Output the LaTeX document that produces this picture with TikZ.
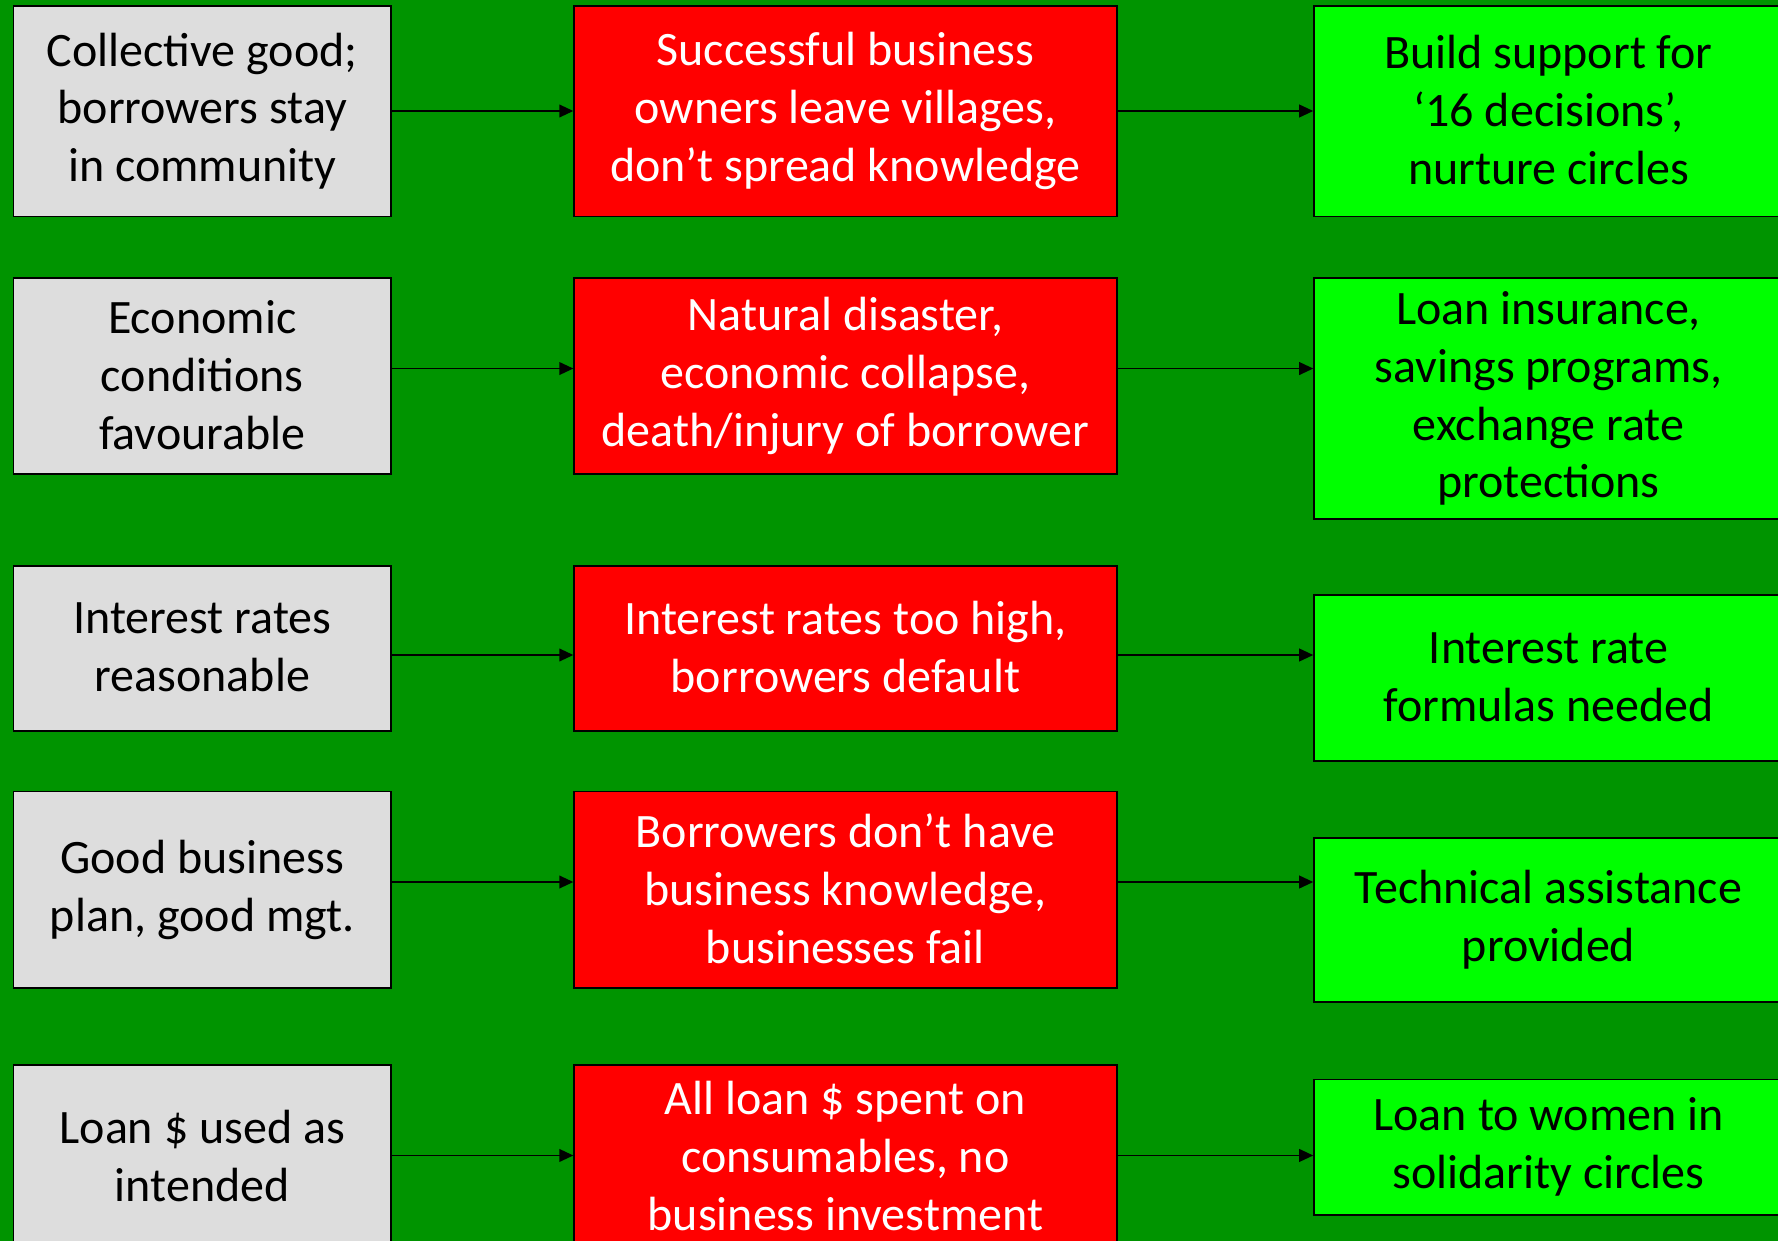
\documentclass[tikz,border=0pt]{standalone}
\usepackage{fontspec}
\setmainfont{Carlito}
\usetikzlibrary{arrows.meta}
\definecolor{bggreen}{RGB}{0,148,0}
\definecolor{boxgray}{RGB}{221,221,221}
\definecolor{boxred}{RGB}{255,0,0}
\definecolor{boxgreen}{RGB}{0,255,0}
\newcommand{\myline}{\rule[-2pt]{0pt}{43.4pt}}
\tikzset{
  basebox/.style={draw=black, line width=1.2pt, rectangle, align=center, inner sep=0pt,
    font=\fontsize{36}{43.4}\selectfont,
    execute at begin node=\myline, execute at end node=\myline},
  graybox/.style={basebox, fill=boxgray, text=black, minimum width=283pt},
  redbox/.style={basebox, fill=boxred, text=white, minimum width=407pt},
  greenbox/.style={basebox, fill=boxgreen, text=black, minimum width=351.75pt},
  arr/.style={line width=1.3pt, -{Triangle[length=10.5pt,width=9.5pt]}}
}
\begin{document}
\begin{tikzpicture}[x=1pt,y=1pt]
\useasboundingbox (0,0) rectangle (1333.5,-930.75);
\clip (0,0) rectangle (1333.5,-930.75);
\fill[bggreen] (0,0) rectangle (1333.5,-930.75);

% row 1
\node[graybox, minimum height=158.2pt] (g1) at (151.7,-83.4) {Collective good;\\borrowers stay\\in community};
\node[redbox, minimum height=158.2pt] (r1) at (634.1,-83.4) {Successful business\\owners leave villages,\\don’t spread knowledge};
\node[greenbox, minimum height=158.2pt] (n1) at (1161.4,-83.4) {Build support for\\‘16 decisions’,\\nurture circles};
\coordinate (a1) at (0,-83.25);

% row 2
\node[graybox, minimum height=147pt] (g2) at (151.7,-282) {Economic\\conditions\\favourable};
\node[redbox, minimum height=147pt] (r2) at (634.1,-282) {Natural disaster,\\economic collapse,\\death/injury of borrower};
\node[greenbox, minimum height=180.75pt] (n2) at (1161.4,-298.9) {Loan insurance,\\savings programs,\\exchange rate\\protections};
\coordinate (a2) at (0,-276.4);

% row 3
\node[graybox, minimum height=123.75pt] (g3) at (151.7,-486.4) {Interest rates\\reasonable};
\node[redbox, minimum height=123.75pt] (r3) at (634.1,-486.4) {Interest rates too high,\\borrowers default};
\node[greenbox, minimum height=124.5pt] (n3) at (1161.4,-508.5) {Interest rate\\formulas needed};
\coordinate (a3) at (0,-491.25);

% row 4
\node[graybox, minimum height=147.4pt] (g4) at (151.7,-667.3) {Good business\\plan, good mgt.};
\node[redbox, minimum height=147.4pt] (r4) at (634.1,-667.3) {Borrowers don’t have\\business knowledge,\\businesses fail};
\node[greenbox, minimum height=123pt] (n4) at (1161.4,-690) {Technical assistance\\provided};
\coordinate (a4) at (0,-661.5);

% row 5
\node[graybox, minimum height=138.75pt] (g5) at (151.7,-868.1) {Loan \$ used as\\intended};
\node[redbox, minimum height=138.75pt] (r5) at (634.1,-868.1) {All loan \$ spent on\\consumables, no\\business investment};
\node[greenbox, minimum height=101.6pt] (n5) at (1161.4,-860.4) {Loan to women in\\solidarity circles};
\coordinate (a5) at (0,-866.6);

\foreach \i in {1,...,5}{
  \draw[arr] (g\i.east |- a\i) -- (r\i.west |- a\i);
  \draw[arr] (r\i.east |- a\i) -- (n\i.west |- a\i);
}
\end{tikzpicture}
\end{document}
